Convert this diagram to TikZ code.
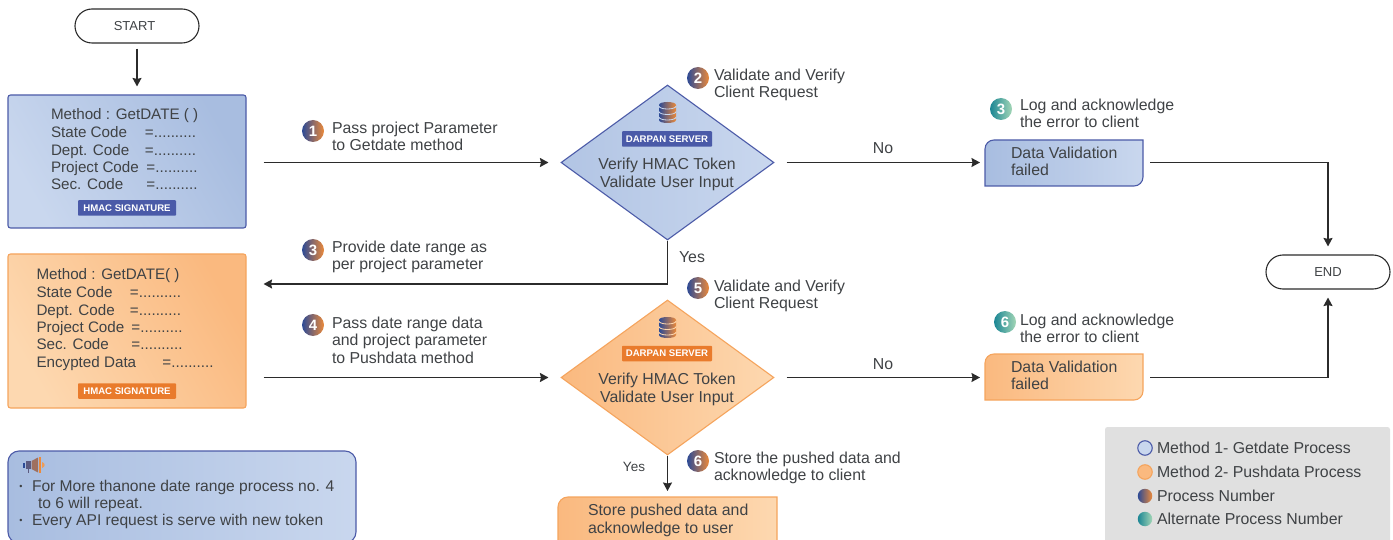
\documentclass[tikz,border=0pt]{standalone}
\usepackage{fontspec}
\setmainfont{Liberation Sans}
\usetikzlibrary{arrows.meta,shapes.geometric}
\definecolor{ink}{HTML}{3F4245}
\definecolor{wire}{HTML}{2B2B2B}
\definecolor{blueedge}{HTML}{4C5BA8}
\definecolor{bluedark}{HTML}{A8BDE0}
\definecolor{bluelight}{HTML}{C9D7EE}
\definecolor{orangeedge}{HTML}{F5A45D}
\definecolor{orangedark}{HTML}{FAB97F}
\definecolor{orangelight}{HTML}{FDD8B0}
\definecolor{badgeblue}{HTML}{4A5AA8}
\definecolor{badgeorange}{HTML}{E97B2C}
\definecolor{numblue}{HTML}{2C4A96}
\definecolor{numorange}{HTML}{EC8A3A}
\definecolor{tealdark}{HTML}{1B8694}
\definecolor{teallight}{HTML}{A3D6B6}
\definecolor{legendgrey}{HTML}{E0E0E0}
\tikzset{
  txt/.style={inner sep=0pt,outer sep=0pt,text=ink,align=left,anchor=north west,font=\fontsize{15.85}{17.3}\selectfont},
  boxtxt/.style={txt,font=\fontsize{15.2}{17.3}\selectfont},
  ctxt/.style={txt,align=center,anchor=center},
  flow/.style={draw=wire,line width=1.4pt,-{Stealth[length=8.5pt,width=9pt,inset=1pt]}},
  blue box/.style={rounded corners=2.5pt,draw=blueedge,line width=1.1pt,left color=bluelight,right color=bluedark,shading angle=120,inner sep=0pt},
  orange box/.style={rounded corners=2.5pt,draw=orangeedge,line width=1.1pt,left color=orangelight,right color=orangedark,shading angle=120,inner sep=0pt},
  blue dia/.style={diamond,draw=blueedge,line width=1.1pt,left color=bluedark!70!bluelight,right color=bluelight,inner sep=0pt,minimum width=213pt,minimum height=155pt,aspect=1.374},
  orange dia/.style={diamond,draw=orangeedge,line width=1.1pt,left color=orangedark,right color=orangelight,inner sep=0pt,minimum width=213pt,minimum height=155pt,aspect=1.374},
  badge/.style={rounded corners=0.8pt,inner sep=0pt,text=white,font=\fontsize{9.6}{11}\selectfont\bfseries,minimum height=15.5pt},
  terminal/.style={draw=wire,line width=1.1pt,rounded corners=17pt,minimum width=124pt,minimum height=34pt,inner sep=0pt,text=ink,font=\fontsize{13}{16}\selectfont},
  num/.style={circle,inner sep=0pt,minimum size=22pt,left color=numblue,right color=numorange,text=white,font=\fontsize{15}{15}\selectfont\bfseries},
  alt num/.style={num,left color=tealdark,right color=teallight},
  key/.style={circle,inner sep=0pt,minimum size=14.5pt},
}
\newcommand{\tagbox}[5]{% x0 y0 x1 y1 style
  \path[#5] (#1,#4) [rounded corners=9pt] -- (#1,#2) [sharp corners] -- (#3,#2) [rounded corners=9pt] -- (#3,#4) [sharp corners] -- cycle;}
\newcommand{\dbicon}[3]{% x y separator
  \begin{scope}[shift={(#1,#2)}]
    \path[left color=numblue,right color=numorange] (-8.5,3) .. controls (-8.5,-1) and (8.5,-1) .. (8.5,3) -- (8.5,18) .. controls (8.5,22) and (-8.5,22) .. (-8.5,18) -- cycle;
    \draw[#3,line width=0.8pt] (-8.5,4) .. controls (-8.5,8) and (8.5,8) .. (8.5,4);
    \draw[#3,line width=0.8pt] (-8.5,9.5) .. controls (-8.5,13.5) and (8.5,13.5) .. (8.5,9.5);
    \draw[#3,line width=0.8pt] (-8.5,15) .. controls (-8.5,19) and (8.5,19) .. (8.5,15);
  \end{scope}}
\begin{document}
\begin{tikzpicture}[x=1pt,y=-1pt]
\clip (0,0) rectangle (1393,540);
% boxes
\node[terminal] (start) at (137,26) {\hspace*{-5pt}START};
\node[terminal] (end) at (1328,272) {END};
\node[blue box,minimum width=238pt,minimum height=133pt] (box1) at (127,161.5) {};
\node[orange box,minimum width=238pt,minimum height=154pt] (box2) at (127,331) {};
\node[boxtxt] (box1text) at (51,108.5) {Method : GetDATE ( )\\[1pt]
  \makebox[94pt][l]{State Code}=..........\\
  \makebox[94pt][l]{Dept. Code}=..........\\
  \makebox[95.5pt][l]{Project Code}=..........\\
  \makebox[95.5pt][l]{Sec. Code}=..........};
\node[badge,fill=badgeblue,minimum width=98pt] (sig1) at (127,208) {HMAC SIGNATURE};
\node[boxtxt] (box2text) at (36.5,268.5) {Method : GetDATE( )\\[1pt]
  \makebox[93.5pt][l]{State Code}=..........\\
  \makebox[93.5pt][l]{Dept. Code}=..........\\
  \makebox[95pt][l]{Project Code}=..........\\
  \makebox[95pt][l]{Sec. Code}=..........\\
  \makebox[126pt][l]{Encypted Data}=..........};
\node[badge,fill=badgeorange,minimum width=98pt] (sig2) at (127,391) {HMAC SIGNATURE};
% diamonds
\node[blue dia] (d1) at (667.5,162.5) {};
\node[orange dia] (d2) at (667.5,377.5) {};
\dbicon{667.5}{102}{bluelight}
\dbicon{667.5}{317}{orangelight}
\node[badge,fill=badgeblue,minimum width=90pt] (srv1) at (667,139) {DARPAN SERVER};
\node[badge,fill=badgeorange,minimum width=90pt] (srv2) at (667,353.5) {DARPAN SERVER};
\node[ctxt] (d1text) at (667,174.5) {Verify HMAC Token\\Validate User Input};
\node[ctxt] (d2text) at (667,389.5) {Verify HMAC Token\\Validate User Input};
% outcome boxes
\tagbox{985}{140}{1143}{186}{draw=blueedge,line width=1.1pt,left color=bluedark,right color=bluelight}
\node[txt,minimum width=158pt,minimum height=46pt,inner sep=0pt] (fail1) at (985,140) {};
\node[txt] (fail1text) at (1011,147) {Data Validation\\failed};
\tagbox{985}{354}{1143}{400}{draw=orangeedge,line width=1.1pt,left color=orangedark,right color=orangelight}
\node[txt,minimum width=158pt,minimum height=46pt,inner sep=0pt] (fail2) at (985,354) {};
\node[txt] (fail2text) at (1011,361) {Data Validation\\failed};
\path[draw=orangeedge,line width=1.1pt,left color=orangedark,right color=orangelight] (558,545) [rounded corners=10pt] -- (558,497) [sharp corners] -- (777,497) [rounded corners=10pt] -- (777,541) [sharp corners] -- (777,545) -- cycle;
\node[txt,minimum width=219pt,minimum height=44pt] (store) at (558,497) {};
\node[txt] (storetext) at (588,504.5) {Store pushed data and\\acknowledge to user};
% step labels
\node[num] (n1) at (313,131) {1};
\node[txt] (t1) at (332,122) {Pass project Parameter\\to Getdate method};
\node[num] (n2) at (698,78) {2};
\node[txt] (t2) at (714,69) {Validate and Verify\\Client Request};
\node[alt num] (n3a) at (1001,109) {3};
\node[txt] (t3a) at (1020,99) {Log and acknowledge\\the error to client};
\node[num] (n3) at (313,250) {3};
\node[txt] (t3) at (332,241) {Provide date range as\\per project parameter};
\node[num] (n4) at (313,325) {4};
\node[txt] (t4) at (332,317) {Pass date range data\\and project parameter\\to Pushdata method};
\node[num] (n5) at (698,288) {5};
\node[txt] (t5) at (714,280) {Validate and Verify\\Client Request};
\node[alt num] (n6a) at (1005,322) {6};
\node[txt] (t6a) at (1020,314) {Log and acknowledge\\the error to client};
\node[num] (n6) at (698,461) {6};
\node[txt] (t6) at (714,452) {Store the pushed data and\\acknowledge to client};
\node[ctxt] (no1) at (883,148) {No};
\node[ctxt] (no2) at (883,364) {No};
\node[ctxt] (yes1) at (692,257) {Yes};
\node[ctxt,font=\fontsize{13.5}{16}\selectfont] (yes2) at (634,467) {Yes};
% connectors
\coordinate (e1) at (667.5,284);
\draw[flow,shorten <=5pt,shorten >=8pt] (start.south) -- (start.south |- box1.north);
\draw[flow,shorten <=17pt,shorten >=12pt] (box1.east |- d1.west) -- (d1.west);
\draw[flow,shorten <=12pt,shorten >=5pt] (d1.east) -- (fail1.west |- d1.east);
\draw[flow,shorten >=17pt] (d1.south) -- (e1) -- (box2.east |- e1);
\draw[flow,shorten <=17pt,shorten >=12pt] (box2.east |- d2.west) -- (d2.west);
\draw[flow,shorten <=12pt,shorten >=5pt] (d2.east) -- (fail2.west |- d2.east);
\draw[flow,shorten >=6pt] (d2.south) -- (d2.south |- store.north);
\draw[flow,shorten <=7pt,shorten >=8pt] (fail1.east |- d1.east) -- (end.north |- d1.east) -- (end.north);
\draw[flow,shorten <=7pt,shorten >=8pt] (fail2.east |- d2.east) -- (end.south |- d2.east) -- (end.south);
% note
\node[rounded corners=11pt,draw=blueedge,line width=1.1pt,left color=bluedark,right color=bluelight,minimum width=348pt,minimum height=92pt,inner sep=0pt] (note) at (182,497) {};
\fill[numblue] (23,463) rectangle (25,467.5);
\fill[numblue!75!numorange] (26,461) rectangle (30.5,469);
\fill[numblue!75!numorange] (27.5,469) rectangle (29,473);
\fill[numblue!40!numorange] (31.5,461) -- (38,457.5) -- (38,472.5) -- (31.5,469) -- cycle;
\fill[numorange] (39,456.5) rectangle (41,473);
\fill[numorange!85!white] (42,462) .. controls (45.5,463) and (45.5,467) .. (42,468) -- cycle;
\node[ctxt,font=\fontsize{9}{10}\selectfont] (bl1) at (21,487) {•};
\node[txt,font=\fontsize{15.6}{17.3}\selectfont] (notea) at (32,480) {For More thanone date range process no. 4};
\node[txt,font=\fontsize{15.6}{17.3}\selectfont] (noteb) at (38,497) {to 6 will repeat.};
\node[ctxt,font=\fontsize{9}{10}\selectfont] (bl2) at (21,521) {•};
\node[txt,font=\fontsize{15.6}{17.3}\selectfont] (notec) at (32,514) {Every API request is serve with new token};
% legend
\node[rounded corners=2.5pt,fill=legendgrey,minimum width=285pt,minimum height=118pt,inner sep=0pt] (legend) at (1247.5,486) {};
\node[key,draw=blueedge,line width=1.1pt,fill=bluelight] (k1) at (1145,448) {};
\node[key,draw=orangeedge,line width=1.1pt,fill=orangedark] (k2) at (1145,472) {};
\node[key,left color=numblue,right color=numorange] (k3) at (1145,496) {};
\node[key,left color=tealdark,right color=teallight] (k4) at (1145,519) {};
\node[txt] (kt1) at (1157,442) {Method 1- Getdate Process};
\node[txt] (kt2) at (1157,466) {Method 2- Pushdata Process};
\node[txt] (kt3) at (1157,490) {Process Number};
\node[txt] (kt4) at (1157,513) {Alternate Process Number};
\end{tikzpicture}
\end{document}
